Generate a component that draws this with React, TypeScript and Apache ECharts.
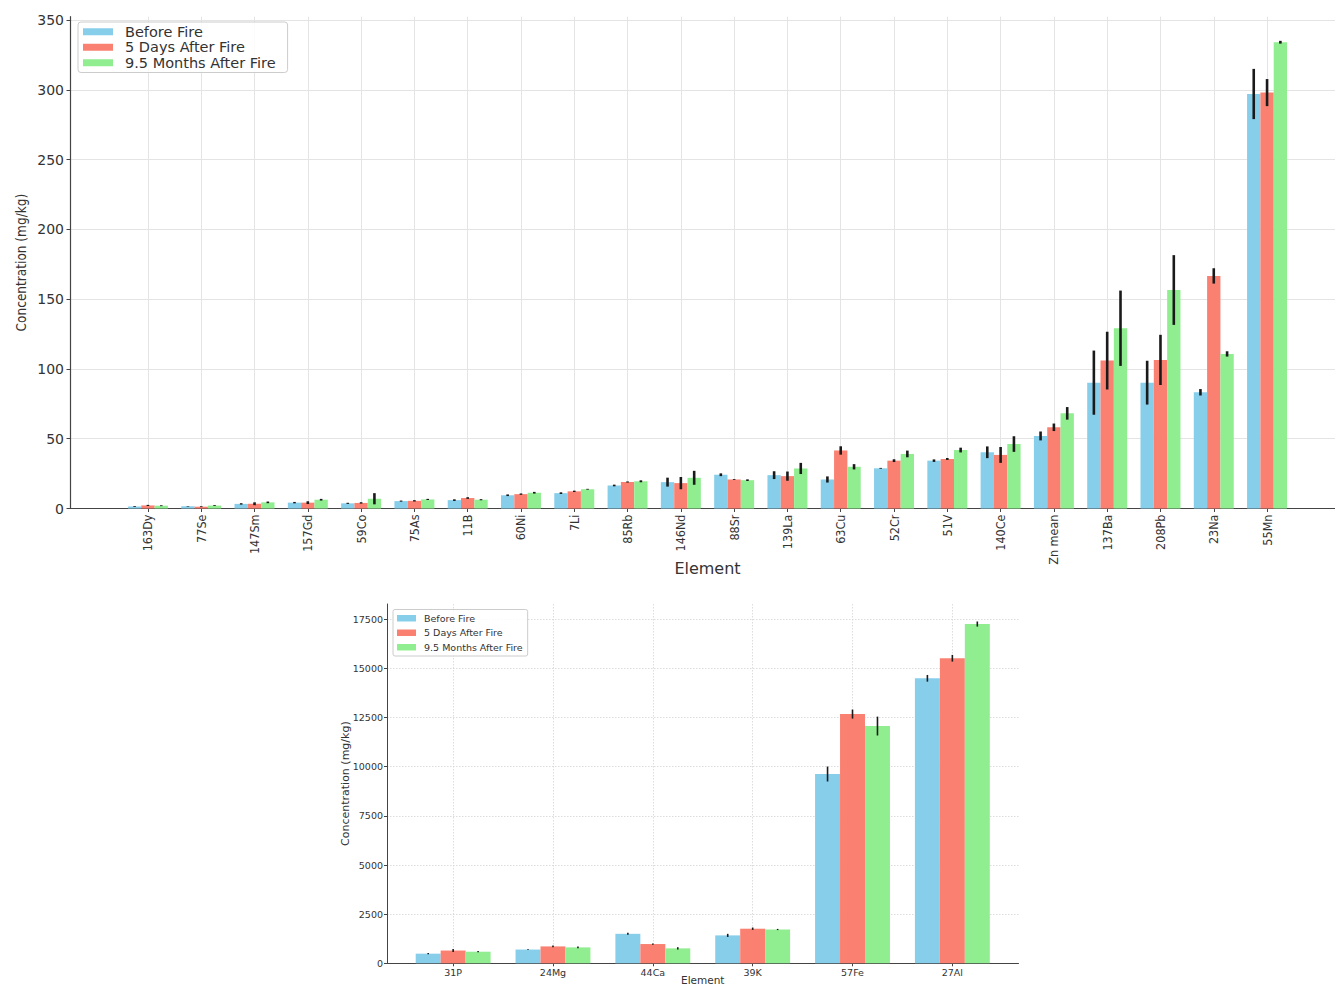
import React, { useEffect, useRef } from 'react';
import * as echarts from 'echarts';

// ---------- Data: top chart (trace elements, mg/kg) ----------
const TOP_CATEGORIES = ['163Dy', '77Se', '147Sm', '157Gd', '59Co', '75As', '11B', '60Ni', '7Li', '85Rb', '146Nd', '88Sr', '139La', '63Cu', '52Cr', '51V', '140Ce', 'Zn mean', '137Ba', '208Pb', '23Na', '55Mn'];
const TOP_BEFORE = [1.5, 1.6, 3.3, 4.2, 3.7, 5.3, 6.0, 9.5, 11.0, 16.5, 18.9, 24.2, 23.9, 20.8, 28.8, 34.3, 40.3, 52.0, 90.2, 90.2, 83.3, 297.1];
const TOP_BEFORE_ERR = [0.3, 0.2, 0.5, 0.5, 0.4, 0.4, 0.6, 0.6, 0.6, 0.6, 3.2, 1.0, 2.8, 2.2, 0.3, 0.9, 4.2, 3.2, 23.0, 15.7, 2.3, 18.0];
const TOP_5DAYS = [2.2, 1.3, 3.4, 4.2, 4.0, 5.5, 7.5, 10.3, 12.3, 19.0, 18.2, 20.8, 23.2, 41.6, 34.3, 35.5, 38.4, 58.2, 106.0, 106.5, 166.7, 298.1];
const TOP_5DAYS_ERR = [0.4, 0.3, 1.0, 1.0, 0.5, 0.5, 0.6, 0.5, 0.5, 0.4, 4.4, 0.3, 3.3, 3.0, 1.0, 0.7, 5.7, 2.7, 20.7, 18.0, 5.5, 9.7];
const TOP_95MONTHS = [2.0, 2.1, 4.4, 6.3, 7.0, 6.5, 6.3, 11.3, 13.8, 19.5, 22.0, 20.3, 28.7, 29.9, 39.1, 41.9, 46.2, 68.2, 129.2, 156.6, 110.8, 334.2];
const TOP_95MONTHS_ERR = [0.3, 0.3, 0.6, 0.6, 4.0, 0.4, 0.4, 0.6, 0.3, 0.7, 5.0, 0.6, 4.0, 1.9, 2.4, 1.7, 5.6, 4.5, 27.0, 25.0, 1.9, 1.0];
const TOP_Y_TICKS = [0, 50, 100, 150, 200, 250, 300, 350];

// ---------- Data: bottom chart (major elements, mg/kg) ----------
const BOTTOM_CATEGORIES = ['31P', '24Mg', '44Ca', '39K', '57Fe', '27Al'];
const BOTTOM_BEFORE = [490, 700, 1500, 1420, 9630, 14500];
const BOTTOM_BEFORE_ERR = [30, 20, 50, 80, 380, 170];
const BOTTOM_5DAYS = [650, 860, 980, 1760, 12680, 15520];
const BOTTOM_5DAYS_ERR = [80, 40, 30, 60, 230, 170];
const BOTTOM_95MONTHS = [590, 810, 760, 1720, 12070, 17260];
const BOTTOM_95MONTHS_ERR = [30, 40, 60, 30, 480, 130];
const BOTTOM_Y_TICKS = [0, 2500, 5000, 7500, 10000, 12500, 15000, 17500];

const SERIES_NAMES = ['Before Fire', '5 Days After Fire', '9.5 Months After Fire'];
const COLORS = ['#87CEEB', '#FA8072', '#90EE90'];

const FONT = '"DejaVu Sans", Verdana, sans-serif';
const FONT_COND = '"DejaVu Sans Condensed", "DejaVu Sans", sans-serif';
const TEXT = '#333';
const AXIS = '#444';

function barSeries(name: string, color: string, values: number[], axisIndex: number) {
  return {
    type: 'bar',
    name,
    xAxisIndex: axisIndex,
    yAxisIndex: axisIndex,
    data: values.map((v, i) => [i, v]),
    barWidth: '25%',
    barGap: '0%',
    itemStyle: { color },
    emphasis: { disabled: true },
    silent: true,
    z: 2,
  };
}

function errSeries(values: number[], errs: number[], slot: number, axisIndex: number, lineWidth: number) {
  return {
    type: 'custom',
    name: 'err_' + axisIndex + '_' + slot,
    xAxisIndex: axisIndex,
    yAxisIndex: axisIndex,
    silent: true,
    z: 5,
    data: values.map((v, i) => [i, v, errs[i]]),
    encode: { x: 0, y: 1 },
    renderItem: (_params: any, api: any) => {
      const i = api.value(0);
      const v = api.value(1);
      const e = api.value(2);
      const unit = api.size([1, 0])[0];
      const dx = (slot - 1) * 0.25 * unit;
      const top = api.coord([i, v + e]);
      const bot = api.coord([i, v - e]);
      return {
        type: 'line',
        shape: { x1: top[0] + dx, y1: top[1], x2: bot[0] + dx, y2: bot[1] },
        style: { stroke: '#1a1a1a', lineWidth },
      };
    },
  };
}

export default function App() {
  const ref = useRef<HTMLDivElement>(null);

  useEffect(() => {
    if (!ref.current) return;
    const chart = echarts.init(ref.current, undefined, { renderer: 'svg' });
    const topIdx = TOP_CATEGORIES.map((_, i) => i);
    const botIdx = BOTTOM_CATEGORIES.map((_, i) => i);

    const option: any = {
      animation: false,
      backgroundColor: '#ffffff',
      grid: [
        { left: 70, top: 16.7, width: 1275, height: 491.8, outerBoundsMode: 'none', containLabel: false },
        { left: 387, top: 604, width: 631.5, height: 359.3, outerBoundsMode: 'none', containLabel: false },
      ],
      legend: [
        {
          data: SERIES_NAMES,
          orient: 'vertical',
          left: 78,
          top: 22,
          itemWidth: 30,
          itemHeight: 7,
          itemGap: 0,
          icon: 'rect',
          padding: [2, 12, 2, 5],
          backgroundColor: 'rgba(255,255,255,0.85)',
          borderColor: '#cccccc',
          borderWidth: 1,
          borderRadius: 3,
          selectedMode: false,
          textStyle: { fontFamily: FONT, fontSize: 14.5, color: TEXT, lineHeight: 15.5, padding: [0, 0, 0, 7] },
        },
        {
          data: SERIES_NAMES,
          orient: 'vertical',
          left: 393,
          top: 609.5,
          itemWidth: 19,
          itemHeight: 6.5,
          itemGap: 0,
          icon: 'rect',
          padding: [1.5, 5, 1.5, 4],
          backgroundColor: 'rgba(255,255,255,0.85)',
          borderColor: '#cccccc',
          borderWidth: 1,
          borderRadius: 2,
          selectedMode: false,
          textStyle: { fontFamily: FONT, fontSize: 9.5, color: TEXT, lineHeight: 14.5, padding: [0, 0, 0, 3] },
        },
      ],
      xAxis: [
        {
          type: 'value',
          gridIndex: 0,
          min: -1.4625,
          max: 22.4625,
          axisLine: { show: true, onZero: false, lineStyle: { color: AXIS, width: 1.2 } },
          axisTick: { show: true, length: 3.5, customValues: topIdx, lineStyle: { color: AXIS } },
          axisLabel: {
            customValues: topIdx,
            formatter: (v: number) => TOP_CATEGORIES[Math.round(v)] ?? '',
            rotate: 90,
            margin: 6,
            fontSize: 12.5,
            fontFamily: FONT_COND,
            color: TEXT,
          },
          splitLine: { show: true, lineStyle: { color: '#e4e4e4', width: 1 } },
          name: 'Element',
          nameLocation: 'middle',
          nameGap: 52,
          nameMoveOverlap: false,
          nameTextStyle: { fontFamily: FONT, fontSize: 16, color: TEXT },
        },
        {
          type: 'value',
          gridIndex: 1,
          min: -0.6625,
          max: 5.6625,
          axisLine: { show: true, onZero: false, lineStyle: { color: AXIS, width: 1 } },
          axisTick: { show: true, length: 3, customValues: botIdx, lineStyle: { color: AXIS } },
          axisLabel: {
            customValues: botIdx,
            formatter: (v: number) => BOTTOM_CATEGORIES[Math.round(v)] ?? '',
            margin: 4,
            fontSize: 9.5,
            fontFamily: FONT,
            color: TEXT,
          },
          splitLine: { show: true, lineStyle: { color: '#d4d4d4', width: 0.8, type: [1.5, 1.5] } },
          name: 'Element',
          nameLocation: 'middle',
          nameGap: 11,
          nameMoveOverlap: false,
          nameTextStyle: { fontFamily: FONT, fontSize: 10.5, color: TEXT },
        },
      ],
      yAxis: [
        {
          type: 'value',
          gridIndex: 0,
          min: 0,
          max: 352.5,
          axisLine: { show: true, onZero: false, lineStyle: { color: AXIS, width: 1.2 } },
          axisTick: { show: true, length: 3.5, customValues: TOP_Y_TICKS, lineStyle: { color: AXIS } },
          axisLabel: {
            customValues: TOP_Y_TICKS,
            formatter: (v: number) => String(v),
            fontSize: 14,
            fontFamily: FONT,
            color: TEXT,
            margin: 6,
          },
          splitLine: { show: true, lineStyle: { color: '#e4e4e4', width: 1 } },
          name: 'Concentration (mg/kg)',
          nameLocation: 'middle',
          nameRotate: 90,
          nameGap: 42,
          nameMoveOverlap: false,
          nameTextStyle: { fontFamily: FONT_COND, fontSize: 13.5, color: TEXT },
        },
        {
          type: 'value',
          gridIndex: 1,
          min: 0,
          max: 18280,
          axisLine: { show: true, onZero: false, lineStyle: { color: AXIS, width: 1 } },
          axisTick: { show: true, length: 3, customValues: BOTTOM_Y_TICKS, lineStyle: { color: AXIS } },
          axisLabel: {
            customValues: BOTTOM_Y_TICKS,
            formatter: (v: number) => String(v),
            fontSize: 9.5,
            fontFamily: FONT,
            color: TEXT,
            margin: 4,
          },
          splitLine: { show: true, lineStyle: { color: '#d4d4d4', width: 0.8, type: [1.5, 1.5] } },
          name: 'Concentration (mg/kg)',
          nameLocation: 'middle',
          nameRotate: 90,
          nameGap: 36,
          nameMoveOverlap: false,
          nameTextStyle: { fontFamily: FONT, fontSize: 11, color: TEXT },
        },
      ],
      series: [
        barSeries(SERIES_NAMES[0], COLORS[0], TOP_BEFORE, 0),
        barSeries(SERIES_NAMES[1], COLORS[1], TOP_5DAYS, 0),
        barSeries(SERIES_NAMES[2], COLORS[2], TOP_95MONTHS, 0),
        errSeries(TOP_BEFORE, TOP_BEFORE_ERR, 0, 0, 2.6),
        errSeries(TOP_5DAYS, TOP_5DAYS_ERR, 1, 0, 2.6),
        errSeries(TOP_95MONTHS, TOP_95MONTHS_ERR, 2, 0, 2.6),
        barSeries(SERIES_NAMES[0], COLORS[0], BOTTOM_BEFORE, 1),
        barSeries(SERIES_NAMES[1], COLORS[1], BOTTOM_5DAYS, 1),
        barSeries(SERIES_NAMES[2], COLORS[2], BOTTOM_95MONTHS, 1),
        errSeries(BOTTOM_BEFORE, BOTTOM_BEFORE_ERR, 0, 1, 1.6),
        errSeries(BOTTOM_5DAYS, BOTTOM_5DAYS_ERR, 1, 1, 1.6),
        errSeries(BOTTOM_95MONTHS, BOTTOM_95MONTHS_ERR, 2, 1, 1.6),
      ],
    };

    chart.setOption(option);
    return () => chart.dispose();
  }, []);

  return (
    <div style={{ position: 'absolute', left: 0, top: 0, width: 1335, height: 987, overflow: 'hidden', background: '#fff' }}>
      <div ref={ref} style={{ width: 1335, height: 987 }} />
    </div>
  );
}
